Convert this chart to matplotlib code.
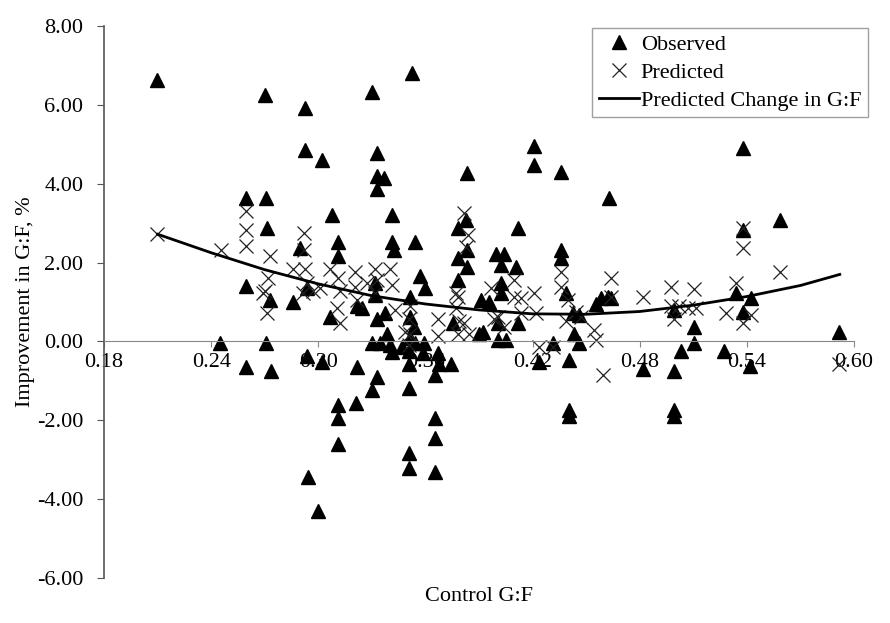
import matplotlib
matplotlib.use("Agg")
import matplotlib.pyplot as plt
from matplotlib.ticker import FormatStrFormatter, MultipleLocator

plt.rcParams['font.family'] = ['Liberation Serif', 'DejaVu Serif']

# observed improvement (triangles)
obs_x = [0.2097, 0.2451, 0.2596, 0.2596, 0.2596, 0.2703, 0.2709, 0.2714, 0.2731, 0.2709,
         0.2737, 0.2927, 0.2927, 0.2899, 0.2860, 0.2939, 0.2939, 0.3023, 0.3023, 0.2944,
         0.3000, 0.3079, 0.3112, 0.3112, 0.3068, 0.3112, 0.3112, 0.3112, 0.3219, 0.3247,
         0.3219, 0.3213, 0.3303, 0.3326, 0.3326, 0.3365, 0.3326, 0.3320, 0.3320, 0.3331,
         0.3303, 0.3348, 0.3387, 0.3404, 0.3415, 0.3303, 0.3331, 0.3376, 0.3415, 0.3415,
         0.3426, 0.3471, 0.3505, 0.3505, 0.3505, 0.3505, 0.3505, 0.3516, 0.3516, 0.3516,
         0.3533, 0.3527, 0.3539, 0.3572, 0.3600, 0.3544, 0.3589, 0.3584, 0.3656, 0.3656,
         0.3656, 0.3656, 0.3668, 0.3673, 0.3741, 0.3752, 0.3780, 0.3825, 0.3780, 0.3830,
         0.3830, 0.3780, 0.3830, 0.3909, 0.3954, 0.3920, 0.3898, 0.3993, 0.4038, 0.4021,
         0.4021, 0.4021, 0.4004, 0.4004, 0.4049, 0.4116, 0.4105, 0.4116, 0.4206, 0.4206,
         0.4357, 0.4357, 0.4357, 0.4386, 0.4425, 0.4458, 0.4430, 0.4458, 0.4313, 0.4234,
         0.4402, 0.4402, 0.4402, 0.4554, 0.4582, 0.4621, 0.4638, 0.4627, 0.4817, 0.4991,
         0.5030, 0.5103, 0.5103, 0.4991, 0.4991, 0.4991, 0.5272, 0.5339, 0.5423, 0.5378,
         0.5378, 0.5378, 0.5418, 0.5586, 0.5917]
obs_y = [6.62, -0.03, 3.65, 1.40, -0.66, 6.24, 3.65, 2.89, 1.04, -0.03,
         -0.76, 5.91, 4.85, 2.36, 0.99, 1.35, -0.36, 4.59, -0.53, -3.43,
         -4.29, 3.22, 2.51, 2.18, 0.61, -1.62, -1.93, -2.59, 0.91, 0.86,
         -0.66, -1.57, 6.32, 4.77, 4.19, 4.14, 3.86, 1.47, 1.17, 0.58,
         -0.03, -0.03, 0.20, -0.10, -0.28, -1.24, -0.91, 0.71, 3.20, 2.51,
         2.31, -0.15, -0.23, -0.56, -1.19, -2.82, -3.20, 1.12, 0.61, 0.08,
         0.36, 6.80, 2.51, 1.65, 1.35, -0.03, -0.05, -0.30, -0.86, -1.93,
         -2.46, -3.32, -0.30, -0.56, -0.56, 0.46, 2.89, 3.07, 2.11, 2.31,
         1.88, 1.55, 4.26, 1.04, 0.99, 0.23, 0.20, 2.23, 2.23, 1.93,
         1.47, 1.22, 0.48, 0.03, 0.03, 2.89, 1.88, 0.48, 4.95, 4.47,
         4.31, 2.31, 2.11, 1.24, 0.71, 0.66, 0.20, -0.03, -0.03, -0.53,
         -0.48, -1.75, -1.88, 0.96, 1.09, 1.12, 1.09, 3.63, -0.69, 0.79,
         -0.23, 0.36, -0.03, -0.74, -1.75, -1.88, -0.23, 1.24, 1.09, 0.74,
         4.90, 2.82, -0.63, 3.07, 0.25]

# predicted improvement (crosses)
pred_x = [0.2097, 0.2456, 0.2596, 0.2596, 0.2596, 0.2731, 0.2720, 0.2703, 0.2714, 0.2692,
          0.2922, 0.2922, 0.2860, 0.2927, 0.2939, 0.2916, 0.2972, 0.3011, 0.3068, 0.3112,
          0.3124, 0.3107, 0.3124, 0.3208, 0.3208, 0.3219, 0.3275, 0.3320, 0.3331, 0.3320,
          0.3404, 0.3415, 0.3432, 0.3488, 0.3505, 0.3516, 0.3516, 0.3505, 0.3668, 0.3668,
          0.3813, 0.3836, 0.3825, 0.3769, 0.3769, 0.3785, 0.3780, 0.3841, 0.3780, 0.3813,
          0.3965, 0.4004, 0.4038, 0.4094, 0.4094, 0.4133, 0.4206, 0.4133, 0.4217, 0.3982,
          0.4357, 0.4357, 0.4397, 0.4442, 0.4386, 0.4470, 0.4543, 0.4554, 0.4638, 0.4638,
          0.4817, 0.4974, 0.4974, 0.4991, 0.5070, 0.5103, 0.5115, 0.5019, 0.4234, 0.4313,
          0.4593, 0.5339, 0.5283, 0.5378, 0.5378, 0.5378, 0.5423, 0.5586, 0.5917]
pred_y = [2.72, 2.31, 3.32, 2.82, 2.41, 2.18, 1.62, 1.29, 0.71, 1.22,
          2.74, 2.31, 1.85, 1.85, 1.47, 1.22, 1.29, 1.35, 1.85, 1.62,
          1.29, 0.86, 0.48, 1.75, 1.37, 1.04, 1.47, 1.85, 1.55, 1.24,
          1.85, 1.42, 0.79, 0.23, 0.58, 0.91, 0.20, -0.10, 0.58, 0.15,
          3.25, 2.69, 2.39, 1.22, 0.86, 0.53, 0.20, 0.20, 1.12, 0.46,
          1.35, 0.61, 0.36, 1.55, 1.12, 1.09, 1.22, 0.71, 0.71, 0.58,
          1.75, 1.37, 1.04, 0.74, 0.53, 0.61, 0.28, 0.03, 1.62, 1.12,
          1.12, 1.37, 0.91, 0.58, 0.86, 1.32, 0.84, 0.91, -0.15, -0.15,
          -0.86, 1.47, 0.71, 2.87, 2.36, 0.48, 0.66, 1.75, -0.56]

# predicted change curve
curve_x = [0.21, 0.24, 0.27, 0.30, 0.33, 0.36, 0.39, 0.42, 0.45, 0.48, 0.51, 0.54, 0.57, 0.592]
curve_y = [2.72, 2.25, 1.82, 1.46, 1.16, 0.95, 0.80, 0.70, 0.69, 0.76, 0.92, 1.14, 1.42, 1.70]

xticks = [0.18, 0.24, 0.30, 0.36, 0.42, 0.48, 0.54, 0.60]

fig = plt.figure(figsize=(8.9, 6.23), dpi=100)
ax = fig.add_axes([0.1169, 0.0722, 0.8427, 0.8860])

ax.plot(obs_x, obs_y, linestyle='none', marker='^', color='black', markersize=10.5,
        label='Observed')
ax.plot(pred_x, pred_y, linestyle='none', marker='x', color='#222222', markersize=10,
        markeredgewidth=0.9, label='Predicted')
ax.plot(curve_x, curve_y, color='black', linewidth=2, label='Predicted Change in G:F')

ax.set_xlim(0.18, 0.60)
ax.set_ylim(-6, 8)
ax.set_xticks(xticks)
ax.yaxis.set_major_locator(MultipleLocator(2))
ax.xaxis.set_major_formatter(FormatStrFormatter('%.2f'))
ax.yaxis.set_major_formatter(FormatStrFormatter('%.2f'))

ax.spines['top'].set_visible(False)
ax.spines['right'].set_visible(False)
ax.spines['bottom'].set_position(('data', 0))
ax.spines['bottom'].set_color('#888888')
ax.spines['left'].set_color('#555555')
ax.spines['left'].set_linewidth(1.2)
ax.tick_params(axis='x', direction='out', length=4, pad=4, labelsize=16, color='#888888')
ax.tick_params(axis='y', direction='out', length=5, pad=10, labelsize=16, color='#555555')

ax.set_ylabel('Improvement in G:F, %', fontsize=16, labelpad=1)
ax.text(0.5, -0.034, 'Control G:F', transform=ax.transAxes, ha='center', va='center',
        fontsize=16)

leg = ax.legend(loc='upper right', bbox_to_anchor=(0.9753, 0.955),
                bbox_transform=fig.transFigure, borderaxespad=0, fontsize=16,
                frameon=True, fancybox=False, edgecolor='#a0a0a0', framealpha=1,
                handlelength=1.8, handletextpad=0.1, labelspacing=0.32, borderpad=0.3)
leg.get_frame().set_linewidth(1)

fig.savefig('out.png', dpi=100)
